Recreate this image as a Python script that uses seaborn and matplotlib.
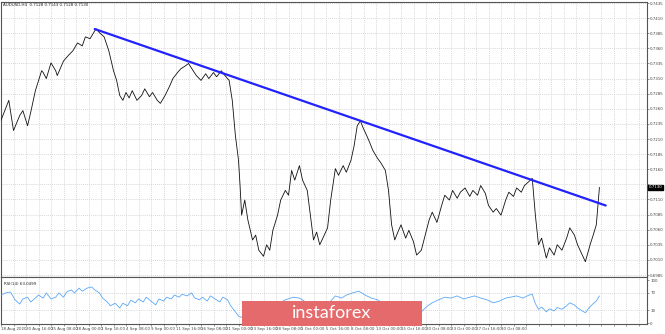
import numpy as np
import pandas as pd
import matplotlib
matplotlib.use("Agg")
import matplotlib.pyplot as plt
from matplotlib.patches import Rectangle
import seaborn as sns

# ---------------- data ----------------
price_bar = [0, 5, 8, 12, 14, 17, 19, 22, 26, 27, 29, 32, 35, 36, 40, 43, 46, 49, 52, 54, 57, 60, 61,
             63, 66, 68, 69, 72, 74, 76, 78, 80, 82, 84, 87, 90, 92, 95, 97, 100, 102, 105, 108, 110,
             113, 115, 118, 120, 123, 125, 128, 131, 133, 136, 138, 141, 143, 146, 148, 150, 152, 153,
             154, 156, 158, 161, 163, 165, 168, 170, 172, 174, 177, 179, 182, 184, 186, 188, 191, 193,
             196, 198, 200, 202, 204, 206, 209, 211, 214, 216, 219, 221, 224, 226, 228, 230, 232, 234,
             236, 238, 241, 243, 246, 248, 250, 252, 254, 256, 259, 261, 264, 266, 269, 271, 274, 276,
             279, 282, 284, 287, 289, 292, 294, 297, 300, 302, 305, 307, 310, 312, 315, 317, 320, 323,
             325, 328, 330, 333, 335, 338, 340, 342, 344, 346, 349, 351, 354, 356, 359, 362, 364, 367,
             369, 372, 374, 377, 379, 381, 383]
price_val = [0.7241, 0.7274, 0.7224, 0.7249, 0.7257, 0.7232, 0.7254, 0.7290, 0.7323, 0.7320, 0.7310,
             0.7336, 0.7323, 0.7315, 0.7339, 0.7348, 0.7356, 0.7369, 0.7364, 0.7379, 0.7376, 0.7389,
             0.7392, 0.7386, 0.7379, 0.7364, 0.7356, 0.7323, 0.7307, 0.7282, 0.7274, 0.7287, 0.7278,
             0.7290, 0.7274, 0.7282, 0.7293, 0.7280, 0.7287, 0.7274, 0.7269, 0.7282, 0.7298, 0.7310,
             0.7320, 0.7326, 0.7331, 0.7335, 0.7323, 0.7315, 0.7307, 0.7318, 0.7310, 0.7320, 0.7313,
             0.7323, 0.7316, 0.7307, 0.7274, 0.7216, 0.7175, 0.7133, 0.7084, 0.7109, 0.7076, 0.7043,
             0.7051, 0.7026, 0.7016, 0.7035, 0.7026, 0.7059, 0.7084, 0.7109, 0.7125, 0.7117, 0.7158,
             0.7142, 0.7166, 0.7142, 0.7125, 0.7084, 0.7043, 0.7056, 0.7035, 0.7046, 0.7063, 0.7109,
             0.7161, 0.7150, 0.7166, 0.7155, 0.7175, 0.7199, 0.7232, 0.7240, 0.7227, 0.7216, 0.7204,
             0.7191, 0.7178, 0.7171, 0.7158, 0.7125, 0.7068, 0.7043, 0.7056, 0.7068, 0.7046, 0.7059,
             0.7040, 0.7018, 0.7026, 0.7046, 0.7076, 0.7089, 0.7072, 0.7100, 0.7117, 0.7109, 0.7125,
             0.7112, 0.7122, 0.7129, 0.7115, 0.7125, 0.7117, 0.7133, 0.7120, 0.7100, 0.7089, 0.7095,
             0.7084, 0.7109, 0.7122, 0.7115, 0.7129, 0.7122, 0.7133, 0.7140, 0.7145, 0.7084, 0.7035,
             0.7046, 0.7013, 0.7030, 0.7018, 0.7035, 0.7026, 0.7046, 0.7063, 0.7051, 0.7035, 0.7018,
             0.7007, 0.7035, 0.7051, 0.7068, 0.7130]

rsi_bar = [0, 3, 6, 9, 12, 14, 17, 19, 22, 24, 27, 29, 32, 35, 37, 40, 42, 45, 47, 50, 52, 55, 58, 60,
           63, 65, 68, 70, 73, 76, 78, 81, 83, 86, 88, 91, 93, 96, 99, 101, 104, 106, 109, 111, 114,
           116, 119, 122, 124, 127, 129, 132, 134, 137, 140, 142, 145, 147, 150, 152, 155, 160, 166,
           172, 177, 182, 187, 191, 195, 198, 202, 206, 210, 214, 218, 221, 225, 229, 233, 237, 241,
           244, 248, 251, 253, 257, 261, 265, 269, 273, 276, 280, 284, 288, 292, 296, 300, 303, 307,
           311, 315, 319, 323, 326, 330, 334, 338, 340, 342, 344, 346, 349, 351, 354, 356, 359, 362,
           364, 367, 369, 372, 374, 377, 379, 381, 383]
rsi_val = [65, 70, 72, 54, 44, 56, 60, 49, 58, 65, 58, 70, 56, 60, 70, 60, 72, 77, 70, 81, 74, 81, 84,
           77, 70, 58, 49, 40, 46, 35, 46, 40, 53, 47, 56, 49, 60, 51, 42, 56, 51, 60, 56, 65, 60, 67,
           63, 70, 58, 54, 60, 51, 63, 56, 49, 60, 54, 40, 26, 16, 12, 26, 21, 30, 44, 54, 60, 58, 49,
           35, 26, 33, 47, 63, 58, 65, 70, 74, 65, 58, 54, 47, 30, 19, 23, 28, 21, 16, 26, 40, 47, 54,
           60, 58, 63, 56, 60, 63, 58, 54, 47, 51, 58, 60, 63, 58, 65, 67, 45, 32, 37, 26, 33, 28, 36,
           32, 40, 47, 42, 35, 28, 24, 38, 45, 51, 63]

trend_bar = [60, 387]
trend_val = [0.7392, 0.7100]

price_ticks = [0.6985, 0.7010, 0.7035, 0.7060, 0.7085, 0.7110, 0.7135, 0.7160, 0.7185, 0.7210,
               0.7235, 0.7260, 0.7285, 0.7310, 0.7335, 0.7360, 0.7385, 0.7410, 0.7435]
hidden_price_tick = 0.7135
rsi_ticks = [0, 30, 70, 100]
date_labels = ["18 Aug 2020", "20 Aug 16:00", "25 Aug 08:00", "28 Aug 00:00", "1 Sep 16:00",
               "4 Sep 08:00", "9 Sep 00:00", "11 Sep 16:00", "16 Sep 08:00", "21 Sep 00:00",
               "23 Sep 16:00", "28 Sep 08:00", "1 Oct 00:00", "5 Oct 16:00", "8 Oct 08:00",
               "13 Oct 00:00", "15 Oct 16:00", "20 Oct 08:00", "23 Oct 00:00", "27 Oct 16:00",
               "30 Oct 08:00"]
date_label_bars = list(range(0, 16 * len(date_labels), 16))

title_text = "AUDUSD,H4  0.7128 0.7143 0.7128 0.7130"
rsi_text = "RSI(14) 63.0499"
last_price = "0.7130"

# ---------------- drawing ----------------
sns.set_theme(style="white")
plt.rcParams["font.family"] = ["DejaVu Sans"]

W, H = 665, 334
fig = plt.figure(figsize=(W / 100, H / 100), dpi=100)
fig.patch.set_facecolor("white")

left = 1 / W
width = 646 / W
ax = fig.add_axes([left, 1 - 277 / H, width, 275 / H])
ax2 = fig.add_axes([left, 1 - 324 / H, width, 47 / H])

xmax = 646 * 0.64
grid_kw = dict(color="#c4c4c4", linestyle=(0, (1.2, 1.6)), linewidth=0.5)
frame_col = "#555555"
lab_col = "#444444"
fs = 2.9

df_p = pd.DataFrame({"bar": price_bar, "price": price_val})
sns.lineplot(data=df_p, x="bar", y="price", ax=ax, color="#111111", linewidth=0.6,
             estimator=None, sort=False, zorder=3)
df_t = pd.DataFrame({"bar": trend_bar, "price": trend_val})
sns.lineplot(data=df_t, x="bar", y="price", ax=ax, color="#2222ff", linewidth=1.6,
             estimator=None, sort=False, zorder=4)

ax.set_xlim(0, xmax)
ax.set_ylim(0.69817, 0.74367)
ax.set_xlabel("")
ax.set_ylabel("")
ax.set_yticks(price_ticks)
ax.set_yticklabels(["" if abs(v - hidden_price_tick) < 1e-6 else f"{v:.4f}" for v in price_ticks])
ax.yaxis.tick_right()
ax.tick_params(axis="y", labelsize=fs, length=1.5, width=0.4, colors=lab_col, pad=0.8, right=True)
ax.set_xticks(np.arange(0, xmax, 8))
ax.tick_params(axis="x", bottom=False, labelbottom=False)
ax.grid(True, **grid_kw)
for s in ax.spines.values():
    s.set_color(frame_col)
    s.set_linewidth(0.8)

# last-price marker
ax.annotate(last_price, xy=(1.0, float(last_price)), xycoords=("axes fraction", "data"),
            xytext=(1.3, 0), textcoords="offset points", ha="left", va="center",
            fontsize=fs, color="white",
            bbox=dict(boxstyle="square,pad=0.2", fc="black", ec="black"), annotation_clip=False,
            zorder=10)

df_r = pd.DataFrame({"bar": rsi_bar, "rsi": rsi_val})
sns.lineplot(data=df_r, x="bar", y="rsi", ax=ax2, color="#5aa8f5", linewidth=0.6,
             estimator=None, sort=False, zorder=3)
ax2.set_xlim(0, xmax)
ax2.set_ylim(-2.3, 107)
ax2.set_xlabel("")
ax2.set_ylabel("")
ax2.set_yticks(rsi_ticks)
ax2.set_yticklabels([str(v) for v in rsi_ticks])
ax2.yaxis.tick_right()
ax2.tick_params(axis="y", labelsize=fs, length=1.5, width=0.4, colors=lab_col, pad=0.8, right=True)
xt = list(np.arange(0, xmax, 8))
ax2.set_xticks(xt)
lbl_map = dict(zip(date_label_bars, date_labels))
ax2.set_xticklabels([lbl_map.get(int(v), "") for v in xt], ha="left")
ax2.tick_params(axis="x", labelsize=fs, length=1.5, width=0.4, colors=lab_col, pad=0.8, bottom=True)
ax2.grid(True, axis="x", **grid_kw)
for lv in (30, 70):
    ax2.axhline(lv, **grid_kw)
for s in ax2.spines.values():
    s.set_color(frame_col)
    s.set_linewidth(0.8)

fig.text(3 / W, 1 - 5 / H, title_text, fontsize=fs, color="#222222", va="center", ha="left")
ax2.text(0.004, 0.90, rsi_text, transform=ax2.transAxes, fontsize=fs, color="#222222",
         va="top", ha="left")

# watermark
fig.patches.append(Rectangle((242 / W, 1 - 326 / H), 180 / W, 25 / H, transform=fig.transFigure,
                             facecolor="#e56a6c", edgecolor="none", zorder=20))
fig.text(332 / W, 1 - 313.5 / H, "instaforex", fontsize=13, color="white", ha="center",
         va="center", zorder=21, family=["Lato", "DejaVu Sans"])

fig.savefig("out.png", dpi=100, facecolor="white")
